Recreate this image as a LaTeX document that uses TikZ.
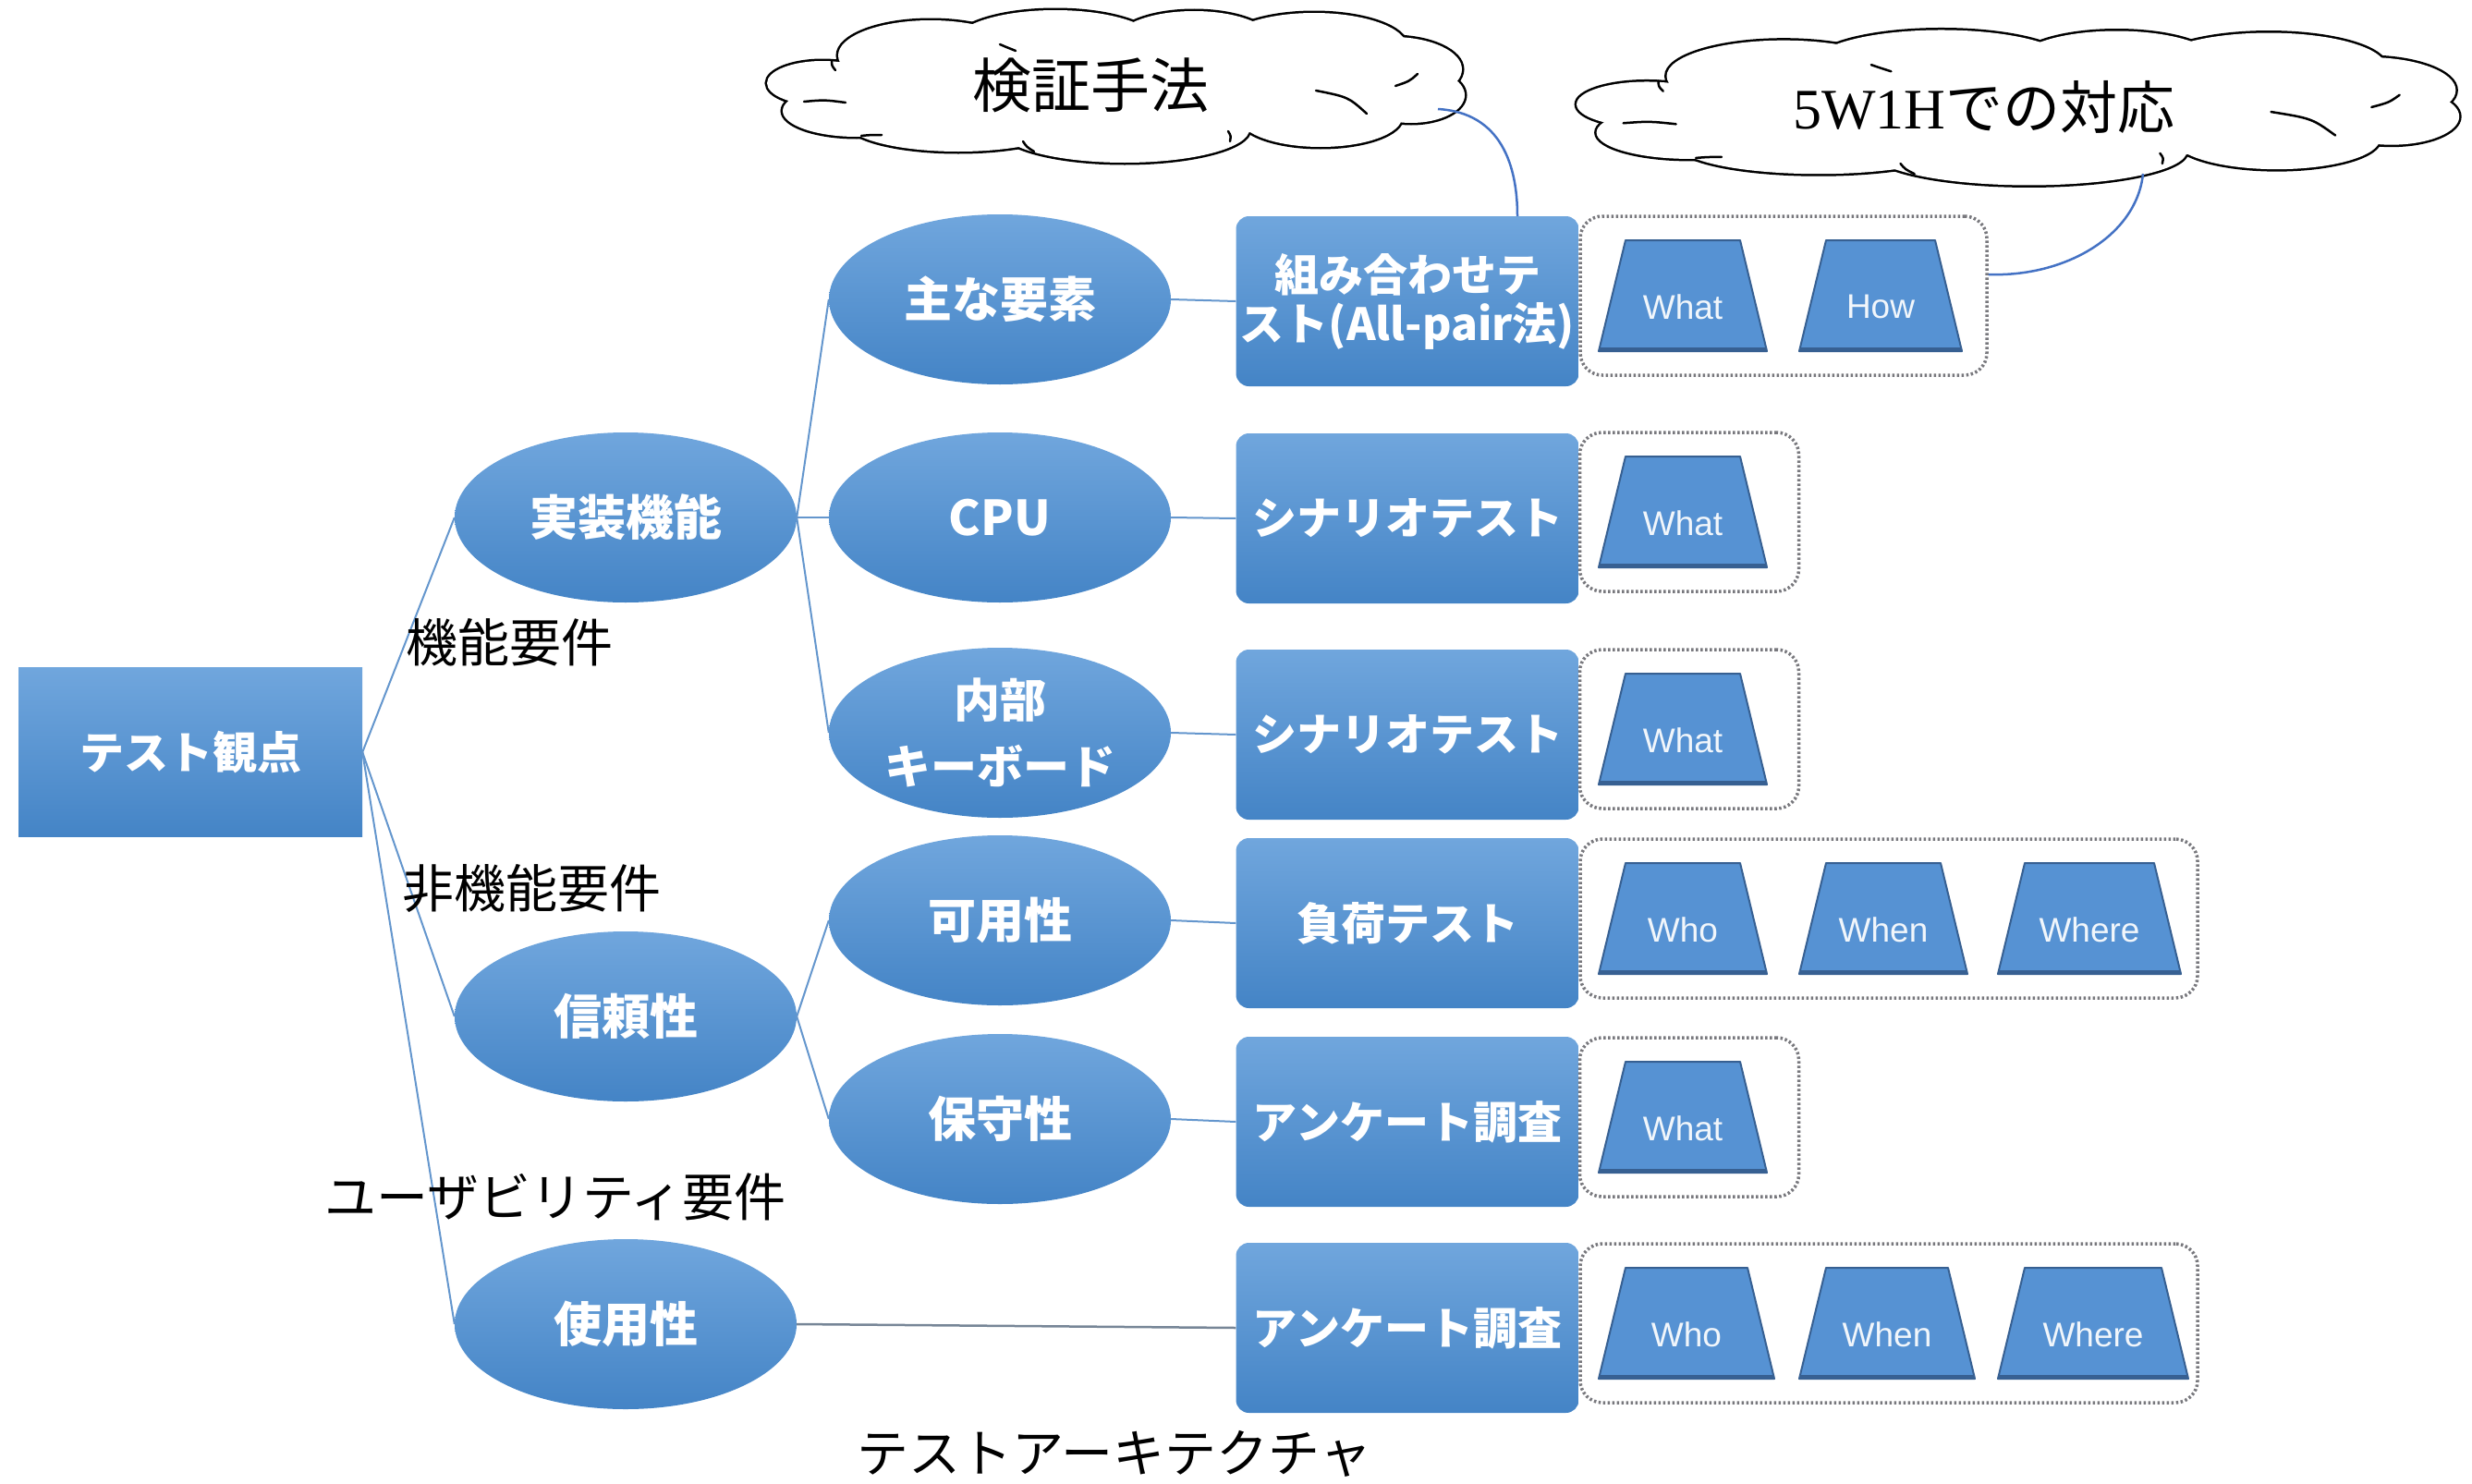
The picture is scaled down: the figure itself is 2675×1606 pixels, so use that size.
\documentclass[tikz,border=0pt]{standalone}
\usepackage{fontspec}
\usetikzlibrary{shapes.geometric}
\newfontfamily\jp{Noto Sans CJK JP}
\newfontfamily\serifl{Liberation Serif}
\setsansfont{Liberation Sans}
\definecolor{btop}{RGB}{112,166,221}
\definecolor{bbot}{RGB}{68,132,198}
\definecolor{trapf}{RGB}{86,146,211}
\definecolor{trapd}{RGB}{55,96,146}
\definecolor{treeline}{RGB}{100,150,205}
\definecolor{connc}{RGB}{68,114,196}
\definecolor{dotc}{RGB}{120,120,125}
\begin{document}
\begin{tikzpicture}[x=1pt,y=-1pt,
 blueshade/.style={top color=btop,bottom color=bbot,draw=none},
 ell/.style={ellipse,blueshade,minimum width=370pt,minimum height=184pt,inner sep=0pt,text=white,font=\jp\bfseries\fontsize{52}{58}\selectfont,align=center},
 rbox/.style={rectangle,rounded corners=14pt,blueshade,minimum width=371pt,minimum height=184pt,inner sep=0pt,text=white,font=\jp\bfseries\fontsize{48}{53}\selectfont,align=center},
 dbox/.style={rectangle,rounded corners=24pt,draw=dotc,dash pattern=on 2.5pt off 2.5pt,line width=3.5pt,minimum height=172pt,inner sep=0pt},
 traptext/.style={inner sep=0pt,text=white!92!trapf,font=\sffamily\fontsize{37}{40}\selectfont},
 tree/.style={draw=treeline,line width=2pt},
 lbl/.style={font=\jp\fontsize{56}{60}\selectfont,text=black,inner sep=0pt},
 cloudtext/.style={font=\jp\fontsize{64}{68}\selectfont,text=black,inner sep=0pt},
 conn/.style={draw=connc,line width=2.5pt}]
\useasboundingbox (0,0) rectangle (2675,1606);

% ---- clouds (union of puffs) ----
\foreach \cx/\cy/\sx/\sy in {1207/95/1/1, 2183/118/1.265/1.018}{
 \begin{scope}[shift={(\cx,\cy)},xscale=\sx,yscale=\sy]
  \foreach \px/\py/\rx/\ry in {-317/-5/60/24, -280/25/80/28, -200/-35/100/38, -65/-48/110/36,
     85/-50/85/33, 215/-45/100/36, 300/-20/75/35, 320/8/58/30, 222/32/88/32, 10/45/135/36,
     -170/38/120/31}{
   \draw[black,line width=5pt] (\px,\py) ellipse [x radius=\rx, y radius=\ry];
  }
  \foreach \px/\py/\rx/\ry in {-317/-5/60/24, -280/25/80/28, -200/-35/100/38, -65/-48/110/36,
     85/-50/85/33, 215/-45/100/36, 300/-20/75/35, 320/8/58/30, 222/32/88/32, 10/45/135/36,
     -170/38/120/31, 0/0/300/55}{
   \fill[white] (\px,\py) ellipse [x radius=\rx, y radius=\ry];
  }
  \draw[black,line width=2.5pt,line cap=round] (-337,15) .. controls (-315,13) .. (-292,16);
  \draw[black,line width=2.5pt,line cap=round] (-307,-30) .. controls (-307,-24) .. (-303,-19);
  \draw[black,line width=2.5pt,line cap=round] (327,-15) .. controls (318,-7) .. (303,-2);
  \draw[black,line width=2.5pt,line cap=round] (217,3) .. controls (252,10) .. (272,28);
  \draw[black,line width=2.5pt,line cap=round] (122,47) .. controls (125,52) .. (124,58);
  \draw[black,line width=2.5pt,line cap=round] (-100,58) .. controls (-96,64) .. (-88,69);
  \draw[black,line width=2.5pt,line cap=round] (-275,52) .. controls (-265,51) .. (-253,51);
  \draw[black,line width=2.5pt,line cap=round] (-125,-47) .. controls (-118,-44) .. (-108,-40);
 \end{scope}
}
\node[cloudtext] (c1) at (1180,92) {検証手法};
\node[cloudtext,font=\jp\fontsize{62}{66}\selectfont] (c2) at (2147,116) {{\serifl 5W1H}での対応};
\coordinate (c1a) at (1556,118);
\coordinate (c2a) at (2319,188);

% root
\node[rectangle,blueshade,minimum width=372pt,minimum height=183pt,inner sep=0pt,text=white,font=\jp\bfseries\fontsize{48}{53}\selectfont] (root) at (206,814) {テスト観点};

% level 1
\node[ell] (e1) at (677,560) {実装機能};
\node[ell] (e2) at (677,1100) {信頼性};
\node[ell] (e3) at (677,1433) {使用性};

% level 2
\node[ell] (f1) at (1082,324) {主な要素};
\node[ell] (f2) at (1082,560) {CPU};
\node[ell,font=\jp\bfseries\fontsize{50}{72}\selectfont] (f3) at (1082,793) {内部\\キーボード};
\node[ell] (f4) at (1082,996) {可用性};
\node[ell] (f5) at (1082,1211) {保守性};

% methods
\node[rbox] (r1) at (1523,326) {組み合わせテ\\スト(All-pair法)};
\node[rbox] (r2) at (1523,561) {シナリオテスト};
\node[rbox] (r3) at (1523,795) {シナリオテスト};
\node[rbox] (r4) at (1523,999) {負荷テスト};
\node[rbox] (r5) at (1523,1214) {アンケート調査};
\node[rbox] (r6) at (1523,1437) {アンケート調査};

% dotted groups
\node[dbox,minimum width=440pt] (d1) at (1930,320) {};
\node[dbox,minimum width=237pt] (d2) at (1828,554) {};
\node[dbox,minimum width=237pt] (d3) at (1828,789) {};
\node[dbox,minimum width=668pt] (d4) at (2044,994) {};
\node[dbox,minimum width=237pt] (d5) at (1828,1209) {};
\node[dbox,minimum width=668pt] (d6) at (2044,1432) {};

% trapezoids
\foreach \n/\x/\y/\w/\t in {t11/1821/320/91/What, t12/2035/320/88/How, t21/1821/554/91/What, t31/1821/789/91/What,
  t41/1821/994/91/Who, t42/2038/994/91/When, t43/2261/994/99/Where, t51/1821/1209/91/What,
  t61/1825/1432/95/Who, t62/2042/1432/95/When, t63/2265/1432/103/Where}{
  \filldraw[fill=trapf,draw=trapd,line width=2pt,line join=round] (\x-\w,\y+60) -- (\x+\w,\y+60) -- (\x+\w-29,\y-60) -- (\x-\w+29,\y-60) -- cycle;
  \draw[trapd,line width=5pt] (\x-\w,\y+58) -- (\x+\w,\y+58);
  \node[traptext] (\n) at (\x,\y+12) {\t};
}

% tree connectors
\draw[tree] (root.east) -- (e1.west);
\draw[tree] (root.east) -- (e2.west);
\draw[tree] (root.east) -- (e3.west);
\draw[tree] (e1.east) -- (f1.west);
\draw[tree] (e1.east) -- (f2.west);
\draw[tree] (e1.east) -- (f3.west);
\draw[tree] (e2.east) -- (f4.west);
\draw[tree] (e2.east) -- (f5.west);
\draw[tree] (f1.east) -- (r1.west);
\draw[tree] (f2.east) -- (r2.west);
\draw[tree] (f3.east) -- (r3.west);
\draw[tree] (f4.east) -- (r4.west);
\draw[tree] (f5.east) -- (r5.west);
\draw[tree,draw=gray!70!treeline,line width=2.5pt] (e3.east) -- (r6.west);

% cloud connectors
\draw[conn] (c1a) .. controls (1625,122) and (1642,180) .. ([xshift=119pt]r1.north);
\draw[conn] (c2a) .. controls (2312,255) and (2235,300) .. ([yshift=23pt]d1.east);

% labels
\node[lbl] (l1) at (551,695) {機能要件};
\node[lbl] (l2) at (575,961) {非機能要件};
\node[lbl] (l3) at (601,1295) {ユーザビリティ要件};
\node[lbl] (l4) at (1206,1573) {テストアーキテクチャ};
\end{tikzpicture}
\end{document}
